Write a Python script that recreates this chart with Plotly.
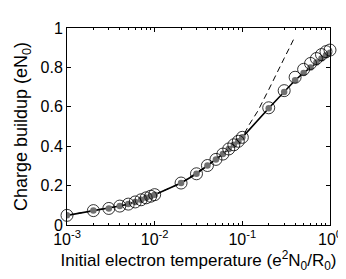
import plotly.graph_objects as go

# Temperature values (e^2 N0 / R0)
temps = [0.001, 0.002, 0.003, 0.004, 0.005, 0.006, 0.007, 0.008, 0.009,
         0.01, 0.02, 0.03, 0.04, 0.05, 0.06, 0.07, 0.08, 0.09,
         0.1, 0.2, 0.3, 0.4, 0.5, 0.6, 0.7, 0.8, 0.9, 1.0]

# Solid curve / gray dots (charge buildup, eN0)
charge_model = [0.049, 0.073, 0.084, 0.096, 0.106, 0.117, 0.128, 0.138, 0.146,
                0.154, 0.213, 0.260, 0.302, 0.333, 0.360, 0.386, 0.407, 0.425,
                0.445, 0.593, 0.675, 0.735, 0.772, 0.800, 0.825, 0.845, 0.862, 0.875]

# Open circles (simulation)
charge_sim = [0.049, 0.073, 0.084, 0.096, 0.106, 0.117, 0.128, 0.138, 0.146,
              0.154, 0.213, 0.260, 0.302, 0.333, 0.360, 0.386, 0.407, 0.425,
              0.445, 0.595, 0.682, 0.750, 0.790, 0.820, 0.845, 0.865, 0.880, 0.888]

# Dashed approximation
dash_x = [0.001, 0.002, 0.005, 0.01, 0.02, 0.05, 0.1, 0.12, 0.15, 0.2, 0.25, 0.3, 0.35, 0.4]
dash_y = [0.049, 0.073, 0.106, 0.154, 0.213, 0.333, 0.445, 0.51, 0.578, 0.687, 0.77, 0.846, 0.905, 0.958]

x_tickvals = [0.001, 0.01, 0.1, 1]
x_ticktext = ["10<sup>-3</sup>", "10<sup>-2</sup>", "10<sup>-1</sup>", "10<sup>0</sup>"]
y_tickvals = [0, 0.2, 0.4, 0.6, 0.8, 1]
y_ticktext = ["0", "0.2", "0.4", "0.6", "0.8", "1"]

FONT = "Liberation Sans, Arial, sans-serif"

fig = go.Figure()
fig.add_trace(go.Scatter(x=dash_x, y=dash_y, mode="lines",
                         line=dict(color="black", width=1, dash="6px,4px"),
                         showlegend=False))
fig.add_trace(go.Scatter(x=temps, y=charge_model, mode="lines+markers",
                         line=dict(color="black", width=1.6),
                         marker=dict(color="#707070", size=6.5, line=dict(width=0)),
                         showlegend=False))
fig.add_trace(go.Scatter(x=temps, y=charge_sim, mode="markers",
                         marker=dict(symbol="circle-open", color="black", size=12,
                                     line=dict(width=0.8, color="black")),
                         cliponaxis=False, showlegend=False))

fig.update_layout(
    width=346, height=279,
    margin=dict(l=59, r=16, t=12, b=62),
    paper_bgcolor="white", plot_bgcolor="white",
    font=dict(family=FONT, size=16, color="black"),
    xaxis=dict(type="log", range=[-3, 0], tickvals=x_tickvals, ticktext=x_ticktext,
               ticks="inside", ticklen=4, tickcolor="black", tickwidth=1,
               showline=True, linecolor="black", linewidth=1, mirror="allticks",
               showgrid=False, zeroline=False,
               minor=dict(ticks="inside", ticklen=2, tickcolor="black", dtick="D1", showgrid=False),
               title=dict(text="Initial electron temperature (e<sup>2</sup>N<sub>0</sub>/R<sub>0</sub>)",
                          font=dict(family=FONT, size=17, color="black"),
                          standoff=5),
               tickfont=dict(family=FONT, size=16, color="black")),
    yaxis=dict(range=[0, 1], tickvals=y_tickvals, ticktext=y_ticktext,
               ticks="inside", ticklen=4, tickcolor="black", tickwidth=1,
               showline=True, linecolor="black", linewidth=1, mirror="allticks",
               showgrid=False, zeroline=False,
               title=dict(text="Charge buildup (eN<sub>0</sub>)",
                          font=dict(family=FONT, size=18, color="black"),
                          standoff=8),
               tickfont=dict(family=FONT, size=16, color="black")),
)

fig.write_html("out.html")
